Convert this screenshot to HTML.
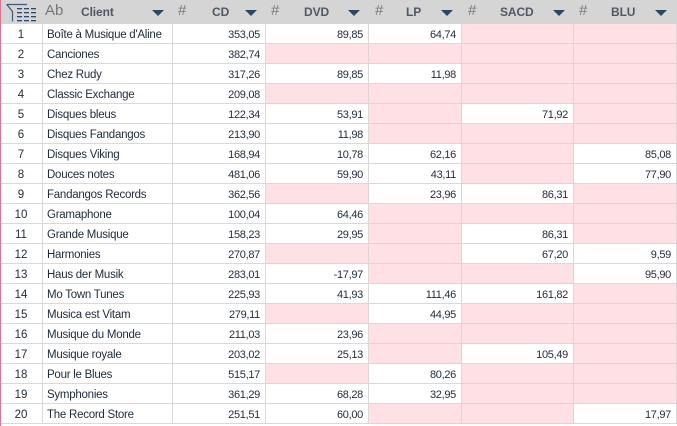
<!DOCTYPE html>
<html><head><meta charset="utf-8">
<style>
*{margin:0;padding:0;box-sizing:border-box}
html,body{width:677px;height:426px;background:#fff;overflow:hidden}
body{position:relative;font-family:"Liberation Sans",Arial,sans-serif;color:#1e2b3a}
#hdr{position:absolute;left:0;top:0;width:677px;height:24px;background:#d5d5d5}
.h{position:absolute;top:0;line-height:24px;white-space:nowrap}
.hash{font-size:15px;color:#7a7a7a;top:-1px}
.lbl{font-size:12px;font-weight:bold;color:#4f5966;letter-spacing:-0.1px}
.arr{position:absolute;top:10px;width:0;height:0;border-left:6px solid transparent;border-right:6px solid transparent;border-top:6px solid #2a4866}
#grid{position:absolute;left:0;top:24px;width:677px}
.r{display:flex;height:20px}
.c{height:20px;border-right:1px solid #d9d9d9;border-bottom:1px solid #d9d9d9;font-size:11px;line-height:18px;padding-top:2px;white-space:nowrap;overflow:hidden;letter-spacing:-0.3px}
.c0{width:43px;text-align:center;letter-spacing:0;font-size:11.5px}
.c1{width:130px;padding-left:4px;letter-spacing:-0.25px;font-size:11.5px}
.n{text-align:right;padding-right:5px}
.c2{width:93px}.c3{width:103px}.c4{width:93px}.c5{width:112px}.c6{width:103px}
.p{background:#ffe0e4;border-right-color:#e2d2d5;border-bottom-color:#e2d2d5}
#pl{position:absolute;left:0;top:0;width:1px;height:426px;background:#ee6a8e}
</style></head><body>
<div id="hdr">
<svg style="position:absolute;left:0;top:0" width="40" height="24" viewBox="0 0 40 24">
<g stroke="#3d5a78" stroke-width="1.2" fill="none">
<path d="M6.5 4.5 H27"/><path d="M6.8 4.5 L12.5 11.5 V21.5"/>
</g>
<g fill="#2a4866">
<rect x="17" y="8" width="5" height="1.3"/><rect x="24" y="8" width="5" height="1.3"/><rect x="31" y="8" width="5" height="1.3"/>
<rect x="17" y="12" width="5" height="1.3"/><rect x="24" y="12" width="5" height="1.3"/><rect x="31" y="12" width="5" height="1.3"/>
<rect x="17" y="16" width="5" height="1.3"/><rect x="24" y="16" width="5" height="1.3"/><rect x="31" y="16" width="5" height="1.3"/>
<rect x="17" y="20" width="5" height="1.3"/><rect x="24" y="20" width="5" height="1.3"/><rect x="31" y="20" width="5" height="1.3"/>
</g></svg>
<div class="h" style="left:45px;font-size:15px;color:#777;top:-1px">Ab</div>
<div class="h lbl" style="left:81px">Client</div>
<div class="arr" style="left:152px"></div>
<div class="h hash" style="left:178px">#</div>
<div class="h lbl" style="left:212px">CD</div>
<div class="arr" style="left:245px"></div>
<div class="h hash" style="left:271px">#</div>
<div class="h lbl" style="left:304px">DVD</div>
<div class="arr" style="left:348px"></div>
<div class="h hash" style="left:375px">#</div>
<div class="h lbl" style="left:406px">LP</div>
<div class="arr" style="left:441px"></div>
<div class="h hash" style="left:468px">#</div>
<div class="h lbl" style="left:500px">SACD</div>
<div class="arr" style="left:553px"></div>
<div class="h hash" style="left:579px">#</div>
<div class="h lbl" style="left:611px">BLU</div>
<div class="arr" style="left:655px"></div>
</div>
<div id="grid">
<div class="r"><div class="c c0">1</div><div class="c c1">Boîte à Musique d'Aline</div><div class="c c2 n">353,05</div><div class="c c3 n">89,85</div><div class="c c4 n">64,74</div><div class="c c5 n p"></div><div class="c c6 n p"></div></div>
<div class="r"><div class="c c0">2</div><div class="c c1">Canciones</div><div class="c c2 n">382,74</div><div class="c c3 n p"></div><div class="c c4 n p"></div><div class="c c5 n p"></div><div class="c c6 n p"></div></div>
<div class="r"><div class="c c0">3</div><div class="c c1">Chez Rudy</div><div class="c c2 n">317,26</div><div class="c c3 n">89,85</div><div class="c c4 n">11,98</div><div class="c c5 n p"></div><div class="c c6 n p"></div></div>
<div class="r"><div class="c c0">4</div><div class="c c1">Classic Exchange</div><div class="c c2 n">209,08</div><div class="c c3 n p"></div><div class="c c4 n p"></div><div class="c c5 n p"></div><div class="c c6 n p"></div></div>
<div class="r"><div class="c c0">5</div><div class="c c1">Disques bleus</div><div class="c c2 n">122,34</div><div class="c c3 n">53,91</div><div class="c c4 n p"></div><div class="c c5 n">71,92</div><div class="c c6 n p"></div></div>
<div class="r"><div class="c c0">6</div><div class="c c1">Disques Fandangos</div><div class="c c2 n">213,90</div><div class="c c3 n">11,98</div><div class="c c4 n p"></div><div class="c c5 n p"></div><div class="c c6 n p"></div></div>
<div class="r"><div class="c c0">7</div><div class="c c1">Disques Viking</div><div class="c c2 n">168,94</div><div class="c c3 n">10,78</div><div class="c c4 n">62,16</div><div class="c c5 n p"></div><div class="c c6 n">85,08</div></div>
<div class="r"><div class="c c0">8</div><div class="c c1">Douces notes</div><div class="c c2 n">481,06</div><div class="c c3 n">59,90</div><div class="c c4 n">43,11</div><div class="c c5 n p"></div><div class="c c6 n">77,90</div></div>
<div class="r"><div class="c c0">9</div><div class="c c1">Fandangos Records</div><div class="c c2 n">362,56</div><div class="c c3 n p"></div><div class="c c4 n">23,96</div><div class="c c5 n">86,31</div><div class="c c6 n p"></div></div>
<div class="r"><div class="c c0">10</div><div class="c c1">Gramaphone</div><div class="c c2 n">100,04</div><div class="c c3 n">64,46</div><div class="c c4 n p"></div><div class="c c5 n p"></div><div class="c c6 n p"></div></div>
<div class="r"><div class="c c0">11</div><div class="c c1">Grande Musique</div><div class="c c2 n">158,23</div><div class="c c3 n">29,95</div><div class="c c4 n p"></div><div class="c c5 n">86,31</div><div class="c c6 n p"></div></div>
<div class="r"><div class="c c0">12</div><div class="c c1">Harmonies</div><div class="c c2 n">270,87</div><div class="c c3 n p"></div><div class="c c4 n p"></div><div class="c c5 n">67,20</div><div class="c c6 n">9,59</div></div>
<div class="r"><div class="c c0">13</div><div class="c c1">Haus der Musik</div><div class="c c2 n">283,01</div><div class="c c3 n">-17,97</div><div class="c c4 n p"></div><div class="c c5 n p"></div><div class="c c6 n">95,90</div></div>
<div class="r"><div class="c c0">14</div><div class="c c1">Mo Town Tunes</div><div class="c c2 n">225,93</div><div class="c c3 n">41,93</div><div class="c c4 n">111,46</div><div class="c c5 n">161,82</div><div class="c c6 n p"></div></div>
<div class="r"><div class="c c0">15</div><div class="c c1">Musica est Vitam</div><div class="c c2 n">279,11</div><div class="c c3 n p"></div><div class="c c4 n">44,95</div><div class="c c5 n p"></div><div class="c c6 n p"></div></div>
<div class="r"><div class="c c0">16</div><div class="c c1">Musique du Monde</div><div class="c c2 n">211,03</div><div class="c c3 n">23,96</div><div class="c c4 n p"></div><div class="c c5 n p"></div><div class="c c6 n p"></div></div>
<div class="r"><div class="c c0">17</div><div class="c c1">Musique royale</div><div class="c c2 n">203,02</div><div class="c c3 n">25,13</div><div class="c c4 n p"></div><div class="c c5 n">105,49</div><div class="c c6 n p"></div></div>
<div class="r"><div class="c c0">18</div><div class="c c1">Pour le Blues</div><div class="c c2 n">515,17</div><div class="c c3 n p"></div><div class="c c4 n">80,26</div><div class="c c5 n p"></div><div class="c c6 n p"></div></div>
<div class="r"><div class="c c0">19</div><div class="c c1">Symphonies</div><div class="c c2 n">361,29</div><div class="c c3 n">68,28</div><div class="c c4 n">32,95</div><div class="c c5 n p"></div><div class="c c6 n p"></div></div>
<div class="r"><div class="c c0">20</div><div class="c c1">The Record Store</div><div class="c c2 n">251,51</div><div class="c c3 n">60,00</div><div class="c c4 n p"></div><div class="c c5 n p"></div><div class="c c6 n">17,97</div></div>
</div>
<div id="pl"></div>
</body></html>
